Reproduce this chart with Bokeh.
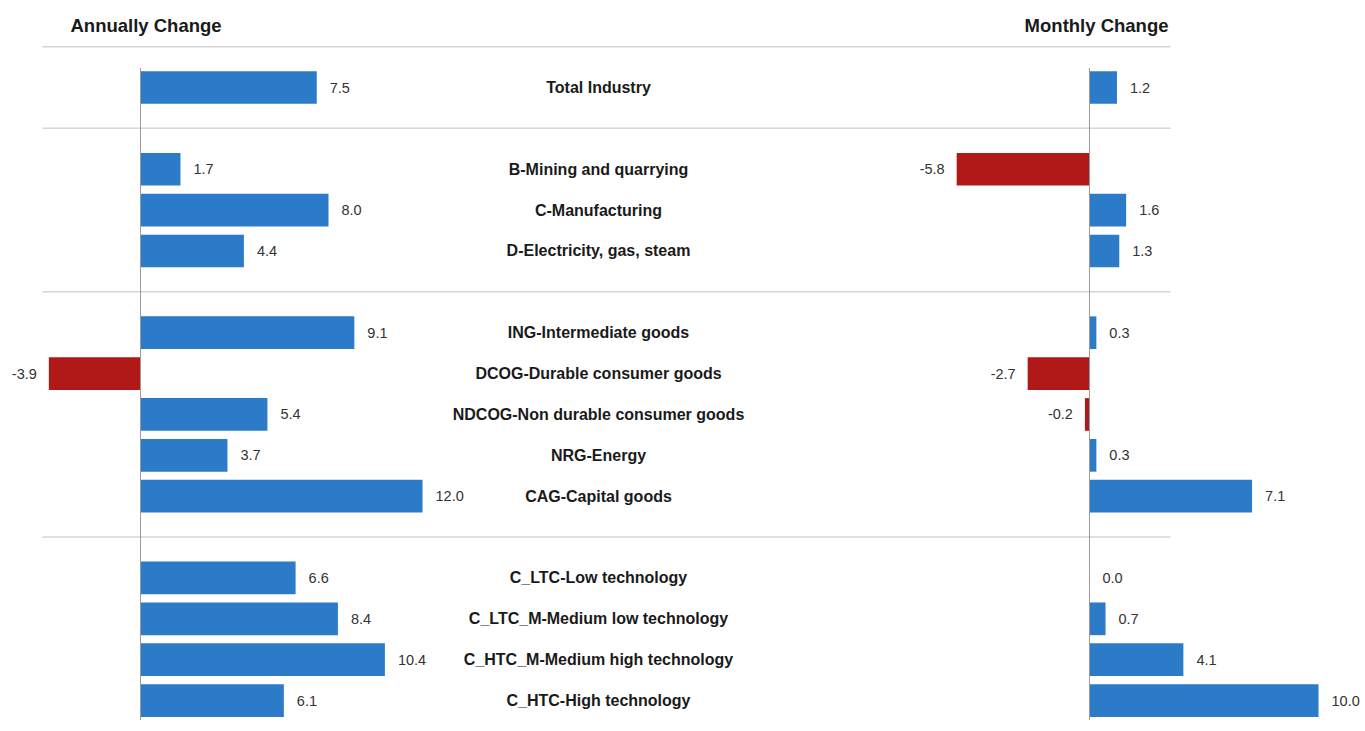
from bokeh.plotting import figure
from bokeh.models import ColumnDataSource, Range1d
from bokeh.core.properties import value
from bokeh.embed import file_html
from bokeh.resources import INLINE

# ---- data ----
groups = [
    ["Total Industry"],
    ["B-Mining and quarrying", "C-Manufacturing", "D-Electricity, gas, steam"],
    ["ING-Intermediate goods", "DCOG-Durable consumer goods",
     "NDCOG-Non durable consumer goods", "NRG-Energy", "CAG-Capital goods"],
    ["C_LTC-Low technology", "C_LTC_M-Medium low technology",
     "C_HTC_M-Medium high technology", "C_HTC-High technology"],
]
annual = [7.5, 1.7, 8.0, 4.4, 9.1, -3.9, 5.4, 3.7, 12.0, 6.6, 8.4, 10.4, 6.1]
monthly = [1.2, -5.8, 1.6, 1.3, 0.3, -2.7, -0.2, 0.3, 7.1, 0.0, 0.7, 4.1, 10.0]
title_left = "Annually Change"
title_right = "Monthly Change"

BLUE = "#2b7bc9"
RED = "#b11818"
FONT = "Liberation Sans"

# row positions (one blank row between groups)
cats, rows, seps = [], [], [-1.0]
r = 0
for gi, g in enumerate(groups):
    for c in g:
        cats.append(c)
        rows.append(r)
        r += 1
    if gi < len(groups) - 1:
        seps.append(r)
        r += 1

W, H = 1362, 725
px_row = 40.87
y_top = -87 / px_row
y_bot = y_top + H / px_row

a_scale = 23.5
a_start = -140 / a_scale
m_scale = 22.9
m_start = -1089 / m_scale

p = figure(width=W, height=H, output_backend="svg", toolbar_location=None,
           x_range=Range1d(0, W), y_range=Range1d(y_bot, y_top),
           min_border=0)
p.extra_x_ranges = {
    "annual": Range1d(a_start, a_start + W / a_scale),
    "monthly": Range1d(m_start, m_start + W / m_scale),
}
p.axis.visible = False
p.grid.visible = False
p.outline_line_color = None
p.background_fill_color = "white"
p.border_fill_color = "white"

def src(vals):
    return ColumnDataSource(dict(
        y=rows, v=vals, zero=[0] * len(vals),
        color=[BLUE if x >= 0 else RED for x in vals],
        label=["{:.1f}".format(x) for x in vals],
        off=[13 if x >= 0 else -12 for x in vals],
        align=["left" if x >= 0 else "right" for x in vals],
    ))

sa = src(annual)
sm = src(monthly)

# separators
p.segment(x0=[42] * len(seps), x1=[1170] * len(seps), y0=seps, y1=seps,
          line_color="#d6d6d6", line_width=1.5)

for s, rn in ((sa, "annual"), (sm, "monthly")):
    p.hbar(y="y", left="zero", right="v", height=0.8, source=s,
           fill_color="color", line_color=None, x_range_name=rn)
    p.segment(x0=[0], x1=[0], y0=[-0.48], y1=[rows[-1] + 0.48],
              line_color="#9a9a9a", line_width=1, x_range_name=rn)
    p.text(x="v", y="y", text="label", x_offset="off", text_align="align",
           text_baseline="middle", source=s, x_range_name=rn,
           text_font=value(FONT), text_font_size="14.5px", text_color="#333333")

# category labels
p.text(x=[598] * len(cats), y=rows, text=cats, text_align="center",
       text_baseline="middle", text_font=value(FONT), text_font_size="16px",
       text_font_style="bold", text_color="#1a1a1a")

# titles
p.text(x=[70], y=[-1.52], text=[title_left], text_align="left",
       text_baseline="middle", text_font=value(FONT), text_font_size="18.5px",
       text_font_style="bold", text_color="#1a1a1a")
p.text(x=[1168], y=[-1.52], text=[title_right], text_align="right",
       text_baseline="middle", text_font=value(FONT), text_font_size="18.5px",
       text_font_style="bold", text_color="#1a1a1a")

open("out.html", "w").write(file_html(p, INLINE))
